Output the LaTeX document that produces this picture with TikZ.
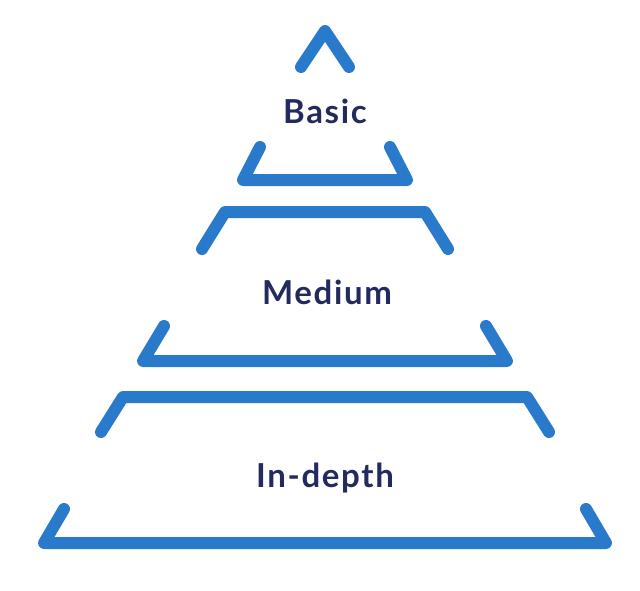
\documentclass[tikz,border=0pt]{standalone}
\usepackage{fontspec}
\setmainfont{Lato}[LetterSpace=5]
\definecolor{pyrblue}{HTML}{2A7ACC}
\definecolor{pyrtext}{HTML}{232A5E}

\begin{document}
\begin{tikzpicture}[x=1pt,y=-1pt,line cap=round,line join=round,
  bar/.style={draw=pyrblue,line width=12pt},
  lvl/.style={text=pyrtext,anchor=base,font=\fontsize{33}{36}\selectfont\bfseries}]
\useasboundingbox (0,0) rectangle (640,590);
% tip of the pyramid
\draw[bar] (301,67)--(325,31)--(349,67);
% trapezoid edges: end y / end half width / corner y / corner half width
\foreach \ya/\xa/\yb/\xb in {147/65/180/82,249/123/212/100,326/161/361/182,432/224/397/202,509/261/543/281}
  \draw[bar] ({325-\xa},\ya)--({325-\xb},\yb)--({325+\xb},\yb)--({325+\xa},\ya);
\node[lvl] (basic) at (325,123) {Basic};
\node[lvl] (medium) at (327,304) {Medium};
\node[lvl] (indepth) at (325,487) {In-depth};
\end{tikzpicture}
\end{document}
